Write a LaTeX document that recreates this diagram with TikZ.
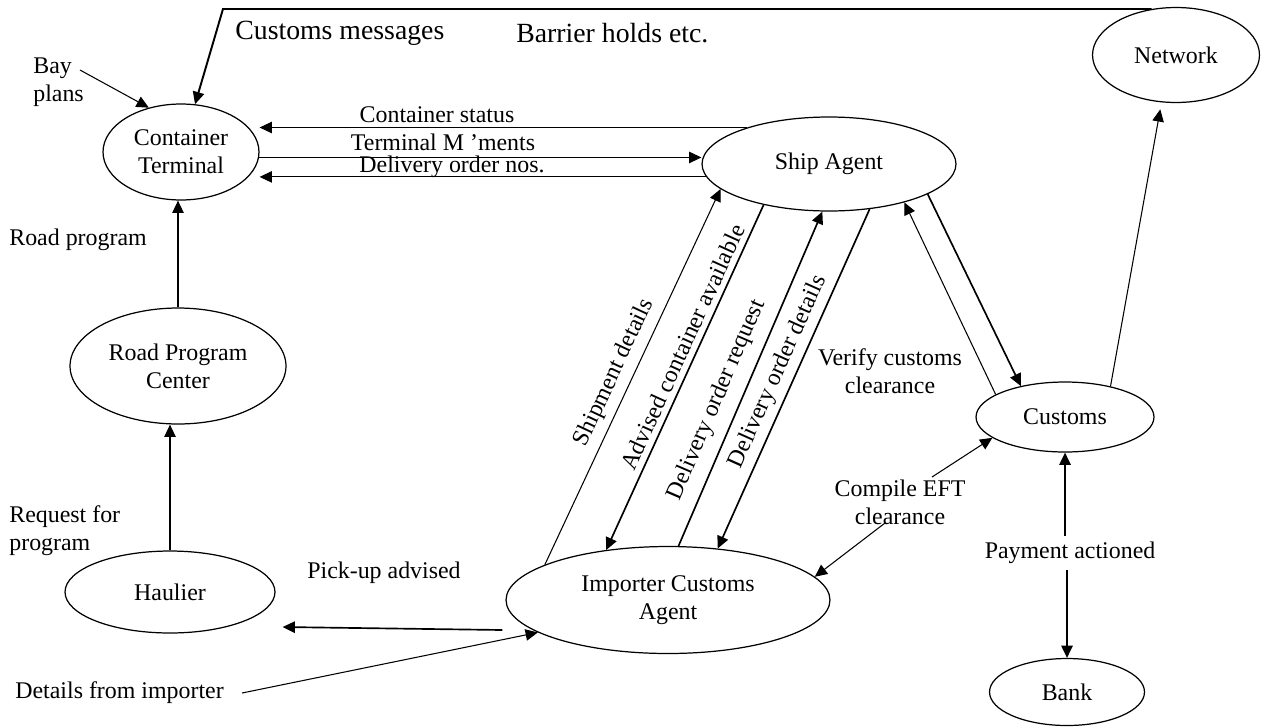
\documentclass[tikz,border=0pt]{standalone}
\usepackage{fontspec}
\setmainfont{Liberation Serif}
\usetikzlibrary{shapes.geometric,arrows.meta}

\begin{document}
\begin{tikzpicture}[x=0.02cm,y=-0.02cm,>={Triangle[length=7pt,width=6.5pt]},
    font=\fontsize{13.6}{16}\selectfont,
    proc/.style={draw,ellipse,line width=0.7pt,inner sep=0pt,align=center},
    txt/.style={inner sep=0pt,align=left},
    big/.style={font=\fontsize{15.8}{18}\selectfont},
    flow/.style={->,line width=0.6pt},
    heavy/.style={->,line width=0.95pt},
    along/.style={sloped,inner sep=1pt}]
  \useasboundingbox (0,0) rectangle (1266,727);

  \node[proc,minimum width=3.12cm,minimum height=1.92cm] (ct) at (181,152) {Container\\Terminal};
  \node[proc,minimum width=5.08cm,minimum height=1.88cm] (ship) at (829,164) {Ship Agent};
  \node[proc,minimum width=4.32cm,minimum height=2.32cm] (rpc) at (178,366) {Road Program\\Center};
  \node[proc,minimum width=4.2cm,minimum height=1.64cm] (haul) at (170,592) {Haulier};
  \node[proc,minimum width=6.48cm,minimum height=2.14cm] (imp) at (668,600) {Importer Customs\\Agent};
  \node[proc,minimum width=3.56cm,minimum height=1.4cm] (cus) at (1065,417) {Customs};
  \node[proc,minimum width=3.1cm,minimum height=1.34cm] (bank) at (1067,692) {Bank};
  \node[proc,minimum width=3.34cm,minimum height=1.9cm] (net) at (1176,55) {Network};

  \node[txt,big,anchor=west] (msgs) at (235,33) {Customs messages};
  \node[txt,big,anchor=west] (holds) at (516,33) {Barrier holds etc.};
  \node[txt,anchor=west] (bay) at (33,82) {Bay\\plans};
  \node[txt,anchor=west] (roadlbl) at (9,240) {Road program};
  \node[txt,anchor=west] (reqlbl) at (9,531) {Request for\\program};
  \node[txt] (picklbl) at (384,573) {Pick-up advised};
  \node[txt,anchor=west] (details) at (15,693) {Details from importer};
  \node[txt] (statuslbl) at (437,115) {Container status};
  \node[txt] (mentslbl) at (443,142) {Terminal M ’ments};
  \node[txt] (noslbl) at (452,167) {Delivery order nos.};
  \node[txt,align=center] (verify) at (890,371) {Verify customs\\clearance};
  \node[txt,align=center] (eft) at (900,502) {Compile EFT\\clearance};
  \node (pay) at (1070,553) {Payment actioned};

  \coordinate (tl) at (223,7);
  \draw[->,line width=1.1pt] (net.118) -- (net.118 -| tl) -- (ct);
  \draw[flow] ([shift={(47,-12)}]bay.west) -- (ct.126);
  \draw[flow] (ship.156) -- (ship.156 -| ct.east);
  \draw[flow] (ct.-4) -- (ct.-4 -| ship.west);
  \draw[flow] (ship.186) -- (ship.186 -| ct.east);
  \draw[flow] (rpc.north) -- (rpc.north |- ct.south);
  \draw[flow] (haul.north) -- (haul.north |- rpc.south);
  \draw[heavy] ([shift={(-3,30)}]imp.west) -- ([shift={(7,35)}]haul.east);
  \draw[flow] ([shift={(18,0)}]details.east) -- (imp.194);

  \draw[flow] (imp.164) -- (ship.193) node[along,pos=.49,above=3pt] {Shipment details};
  \draw[heavy] (ship.212) -- (imp.141) node[along,pos=.43,above=2pt] {Advised container available};
  \draw[heavy] (imp.79) -- (ship.262) node[along,pos=.41,above=5pt] {Delivery order request};
  \draw[heavy] (ship.312) -- (imp.46) node[along,pos=.5,above=2pt] {Delivery order details};

  \draw[flow] (cus.162) -- (ship.333);
  \draw[heavy] (ship.343) -- (cus.145);
  \draw[flow,shorten >=4pt] (cus.34) -- (net.253);
  \draw[flow] ([shift={(32,-25)}]eft.center) -- (cus.196);
  \draw[flow] ([shift={(-15,21)}]eft.center) -- (imp.9);
  \draw[heavy] (pay.north -| cus.south) -- (cus.south);
  \draw[heavy] (pay.south -| bank.north) -- (bank.north);
\end{tikzpicture}
\end{document}
